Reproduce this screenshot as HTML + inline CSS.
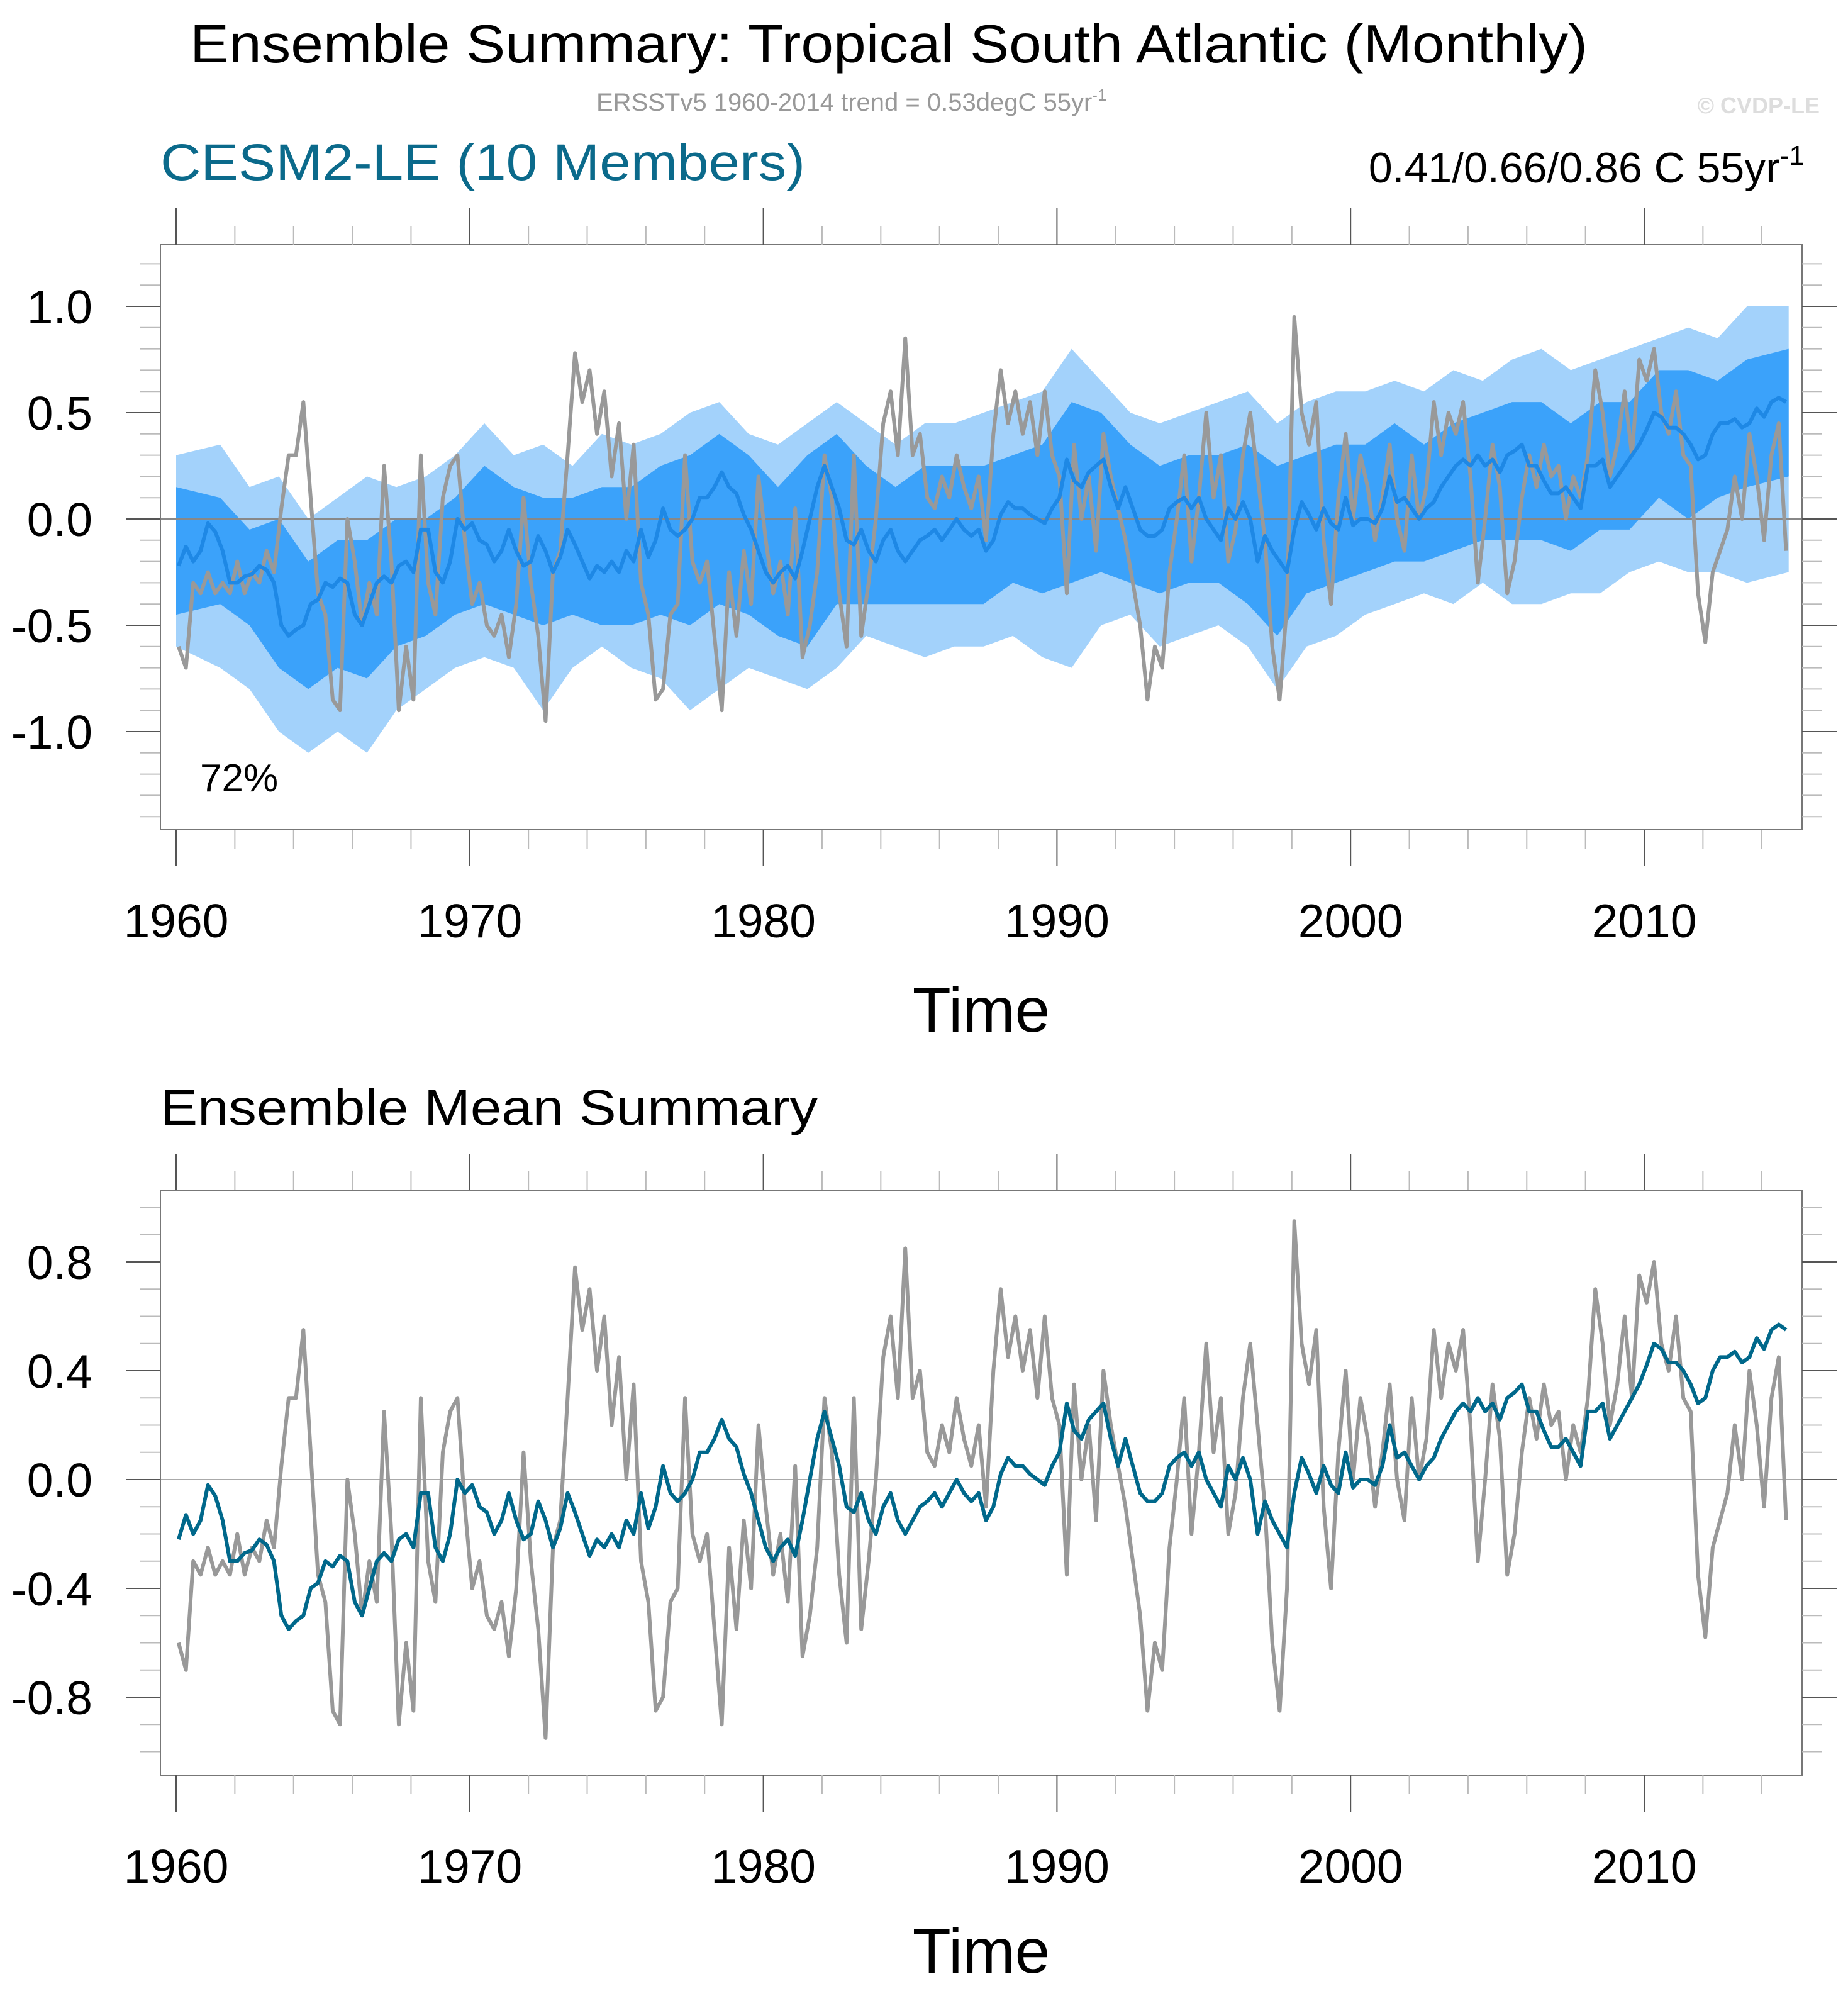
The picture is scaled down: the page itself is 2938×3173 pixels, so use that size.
<!DOCTYPE html>
<html><head><meta charset="utf-8"><style>
html,body{margin:0;padding:0;background:#fff}
svg{display:block;font-family:"Liberation Sans",sans-serif}
</style></head><body>
<svg id="fig" xmlns="http://www.w3.org/2000/svg" width="2938" height="3173" viewBox="0 0 2938 3173">
<text x="302" y="99" font-size="85" textLength="2222" lengthAdjust="spacingAndGlyphs">Ensemble Summary: Tropical South Atlantic (Monthly)</text>
<text x="948" y="176" font-size="40" fill="#999">ERSSTv5 1960-2014 trend = 0.53degC 55yr<tspan dy="-16" font-size="26">-1</tspan></text>
<text x="2893" y="180" font-size="36" font-weight="bold" fill="#ddd" text-anchor="end">© CVDP-LE</text>
<text x="255" y="286" font-size="82" fill="#0b6a8b" textLength="1025" lengthAdjust="spacingAndGlyphs">CESM2-LE (10 Members)</text>
<text x="2869" y="290" font-size="68" text-anchor="end">0.41/0.66/0.86 C 55yr<tspan dy="-28" font-size="44">-1</tspan></text>
<text x="255" y="1788" font-size="80" textLength="1045" lengthAdjust="spacingAndGlyphs">Ensemble Mean Summary</text>
<g id="p1"></g>
<g id="p2"></g>
</svg>
<script>
const years = [];
for (let y = 1960; y <= 2014; y++) years.push(y);
const obsValues = [
-0.6,-0.7,-0.3,-0.35, -0.25,-0.35,-0.3,-0.35, -0.2,-0.35,-0.25,-0.3, -0.15,-0.25,0.05,0.3, 0.3,0.55,0.1,-0.35,
-0.45,-0.85,-0.9,0.0, -0.2,-0.5,-0.3,-0.45, 0.25,-0.2,-0.9,-0.6, -0.85,0.3,-0.3,-0.45, 0.1,0.25,0.3,-0.1,
-0.4,-0.3,-0.5,-0.55, -0.45,-0.65,-0.4,0.1, -0.3,-0.55,-0.95,-0.25, -0.15,0.3,0.78,0.55, 0.7,0.4,0.6,0.2,
0.45,0.0,0.35,-0.3, -0.45,-0.85,-0.8,-0.45, -0.4,0.3,-0.2,-0.3, -0.2,-0.55,-0.9,-0.25, -0.55,-0.15,-0.4,0.2,
-0.1,-0.35,-0.2,-0.45, 0.05,-0.65,-0.5,-0.25, 0.3,0.1,-0.35,-0.6, 0.3,-0.55,-0.3,0.0, 0.45,0.6,0.3,0.85,
0.3,0.4,0.1,0.05, 0.2,0.1,0.3,0.15, 0.05,0.2,-0.1,0.4, 0.7,0.45,0.6,0.4, 0.55,0.3,0.6,0.3,
0.2,-0.35,0.35,0.0, 0.2,-0.15,0.4,0.2, 0.05,-0.1,-0.3,-0.5, -0.85,-0.6,-0.7,-0.25, 0.0,0.3,-0.2,0.1,
0.5,0.1,0.3,-0.2, -0.05,0.3,0.5,0.2, -0.1,-0.6,-0.85,-0.4, 0.95,0.5,0.35,0.55, -0.1,-0.4,0.1,0.4,
0.0,0.3,0.15,-0.1, 0.1,0.35,0.0,-0.15, 0.3,0.0,0.15,0.55, 0.3,0.5,0.4,0.55, 0.2,-0.3,0.0,0.35,
0.15,-0.35,-0.2,0.1, 0.3,0.15,0.35,0.2, 0.25,0.0,0.2,0.1, 0.3,0.7,0.5,0.2, 0.35,0.6,0.3,0.75,
0.65,0.8,0.5,0.4, 0.6,0.3,0.25,-0.35, -0.58,-0.25,-0.15,-0.05, 0.2,0.0,0.4,0.2, -0.1,0.3,0.45,-0.15];
const meanValues = [
-0.22,-0.13,-0.2,-0.15, -0.02,-0.06,-0.15,-0.3, -0.3,-0.27,-0.26,-0.22, -0.24,-0.3,-0.5,-0.55, -0.52,-0.5,-0.4,-0.38,
-0.3,-0.32,-0.28,-0.3, -0.45,-0.5,-0.4,-0.3, -0.27,-0.3,-0.22,-0.2, -0.25,-0.05,-0.05,-0.25, -0.3,-0.2,0.0,-0.05,
-0.02,-0.1,-0.12,-0.2, -0.15,-0.05,-0.15,-0.22, -0.2,-0.08,-0.15,-0.25, -0.18,-0.05,-0.12,-0.2, -0.28,-0.22,-0.25,-0.2,
-0.25,-0.15,-0.2,-0.05, -0.18,-0.1,0.05,-0.05, -0.08,-0.05,0.0,0.1, 0.1,0.15,0.22,0.15, 0.12,0.02,-0.05,-0.15,
-0.25,-0.3,-0.25,-0.22, -0.28,-0.15,0.0,0.15, 0.25,0.15,0.05,-0.1, -0.12,-0.05,-0.15,-0.2, -0.1,-0.05,-0.15,-0.2,
-0.15,-0.1,-0.08,-0.05, -0.1,-0.05,0.0,-0.05, -0.08,-0.05,-0.15,-0.1, 0.02,0.08,0.05,0.05, 0.02,0.0,-0.02,0.05,
0.1,0.28,0.18,0.15, 0.22,0.25,0.28,0.15, 0.05,0.15,0.05,-0.05, -0.08,-0.08,-0.05,0.05, 0.08,0.1,0.05,0.1,
0.0,-0.05,-0.1,0.05, 0.0,0.08,0.0,-0.2, -0.08,-0.15,-0.2,-0.25, -0.05,0.08,0.02,-0.05, 0.05,-0.02,-0.05,0.1,
-0.03,0.0,0.0,-0.02, 0.05,0.2,0.08,0.1, 0.05,0.0,0.05,0.08, 0.15,0.2,0.25,0.28, 0.25,0.3,0.25,0.28,
0.22,0.3,0.32,0.35, 0.25,0.25,0.18,0.12, 0.12,0.15,0.1,0.05, 0.25,0.25,0.28,0.15, 0.2,0.25,0.3,0.35,
0.42,0.5,0.48,0.43, 0.43,0.4,0.35,0.28, 0.3,0.4,0.45,0.45, 0.47,0.43,0.45,0.52, 0.48,0.55,0.57,0.55];
const fullMax = [0.3,0.35,0.15,0.2,0.0,0.1,0.2,0.15,0.2,0.3,0.45,0.3,0.35,0.25,0.4,0.35,0.4,0.5,0.55,0.4,0.35,0.45,0.55,0.45,0.35,0.45,0.45,0.5,0.55,0.6,0.8,0.65,0.5,0.45,0.5,0.55,0.6,0.45,0.55,0.6,0.6,0.65,0.6,0.7,0.65,0.75,0.8,0.7,0.75,0.8,0.85,0.9,0.85,1.0,1.0];
const fullMin = [-0.6,-0.7,-0.8,-1.0,-1.1,-1.0,-1.1,-0.9,-0.8,-0.7,-0.65,-0.7,-0.9,-0.7,-0.6,-0.7,-0.75,-0.9,-0.8,-0.7,-0.75,-0.8,-0.7,-0.55,-0.6,-0.65,-0.6,-0.6,-0.55,-0.65,-0.7,-0.5,-0.45,-0.6,-0.55,-0.5,-0.6,-0.8,-0.6,-0.55,-0.45,-0.4,-0.35,-0.4,-0.3,-0.4,-0.4,-0.35,-0.35,-0.25,-0.2,-0.25,-0.25,-0.3,-0.25];
const innerMax = [0.15,0.1,-0.05,0.0,-0.2,-0.1,-0.1,0.0,0.0,0.1,0.25,0.15,0.1,0.1,0.15,0.15,0.25,0.3,0.4,0.3,0.15,0.3,0.4,0.25,0.15,0.25,0.25,0.25,0.3,0.35,0.55,0.5,0.35,0.25,0.3,0.3,0.35,0.25,0.3,0.35,0.35,0.45,0.35,0.45,0.5,0.55,0.55,0.45,0.55,0.55,0.7,0.7,0.65,0.75,0.8];
const innerMin = [-0.45,-0.4,-0.5,-0.7,-0.8,-0.7,-0.75,-0.6,-0.55,-0.45,-0.4,-0.45,-0.5,-0.45,-0.5,-0.5,-0.45,-0.5,-0.4,-0.45,-0.55,-0.6,-0.4,-0.4,-0.4,-0.4,-0.4,-0.4,-0.3,-0.35,-0.3,-0.25,-0.3,-0.35,-0.3,-0.3,-0.4,-0.55,-0.35,-0.3,-0.25,-0.2,-0.2,-0.15,-0.1,-0.1,-0.1,-0.15,-0.05,-0.05,0.1,0.0,0.1,0.15,0.2];
const xTickLabels = ["1960","1970","1980","1990","2000","2010"];
const yTicks1 = ["-1.0","-0.5","0.0","0.5","1.0"];
const yTicks2 = ["-0.8","-0.4","0.0","0.4","0.8"];

const NS = "http://www.w3.org/2000/svg";
function mk(parent, tag, attrs) { const e = document.createElementNS(NS, tag); for (const k in attrs) e.setAttribute(k, attrs[k]); parent.appendChild(e); return e; }
const X0 = 255, X1 = 2865;
function xs(t) { return 280 + (t - 1960) * 46.68; }
function qt(i) { return 1960 + (i * 3 + 1) / 12; }
function bt(i, n) { return i === 0 ? 1960 : (i === n - 1 ? 2014.92 : years[i] + 0.5); }

function panel(g, top, bot, v0, pxPerUnit, vmin, vmax, major, labels, labelY, timeY) {
  const ys = v => v0 - v * pxPerUnit;
  const defs = mk(g, 'clipPath', {id: g.id + 'clip'});
  mk(defs, 'rect', {x: X0, y: top, width: X1 - X0, height: bot - top});
  const plot = mk(g, 'g', {'clip-path': 'url(#' + g.id + 'clip)'});
  return {ys, plot, finish: () => {
    const fr = mk(g, 'rect', {x: X0, y: top, width: X1 - X0, height: bot - top, fill: 'none', stroke: '#777', 'stroke-width': 2});
    
    
    for (let yr = 1960; yr <= 2014; yr += 2) {
      const maj = (yr % 10 === 0);
      const x = xs(yr);
      mk(g, 'line', {x1: x, x2: x, y1: top, y2: top - (maj ? 58 : 30), stroke: maj ? '#555' : '#bbb', 'stroke-width': 2});
      mk(g, 'line', {x1: x, x2: x, y1: bot, y2: bot + (maj ? 58 : 30), stroke: maj ? '#555' : '#bbb', 'stroke-width': 2});
    }
    for (let k = Math.ceil(vmin * 10); k <= Math.floor(vmax * 10); k++) {
      const v = k / 10, y = ys(v);
      const maj = Math.abs(Math.round(v / major) * major - v) < 1e-6;
      mk(g, 'line', {x1: X0, x2: X0 - (maj ? 55 : 32), y1: y, y2: y, stroke: maj ? '#555' : '#bbb', 'stroke-width': 2});
      mk(g, 'line', {x1: X1, x2: X1 + (maj ? 55 : 32), y1: y, y2: y, stroke: maj ? '#555' : '#bbb', 'stroke-width': 2});
    }
    labels.forEach(l => {
      const t = mk(g, 'text', {x: 147, y: ys(parseFloat(l)) + 27, 'font-size': 75, 'text-anchor': 'end'});
      
      
      t.textContent = l;
    });
    xTickLabels.forEach(l => {
      const t = mk(g, 'text', {x: xs(parseInt(l)), y: labelY, 'font-size': 75, 'text-anchor': 'middle'});
      
      
      t.textContent = l;
    });
    const tt = mk(g, 'text', {x: 1560, y: timeY, 'font-size': 100, 'text-anchor': 'middle'});
    
    
    tt.textContent = 'Time';
  }};
}
function linePath(vals, ys) { return vals.map((v, i) => (i ? 'L' : 'M') + xs(qt(i)).toFixed(1) + ',' + ys(v).toFixed(1)).join(''); }
function bandPath(up, lo, ys) {
  const n = up.length;
  let d = up.map((v, i) => (i ? 'L' : 'M') + xs(bt(i, n)).toFixed(1) + ',' + ys(v).toFixed(1)).join('');
  for (let i = lo.length - 1; i >= 0; i--) d += 'L' + xs(bt(i, n)).toFixed(1) + ',' + ys(lo[i]).toFixed(1);
  return d + 'Z';
}

// Panel 1
const g1 = document.getElementById('p1');
const P1 = panel(g1, 389, 1319, 825, 338, -1.4, 1.2, 0.5, yTicks1, 1490, 1640);
const b1 = mk(P1.plot, 'path', {d: bandPath(fullMax, fullMin, P1.ys), fill: '#a3d2fb'});


const b2 = mk(P1.plot, 'path', {d: bandPath(innerMax, innerMin, P1.ys), fill: '#3ba2fa'});


mk(P1.plot, 'line', {x1: X0, x2: X1, y1: P1.ys(0), y2: P1.ys(0), stroke: '#888', 'stroke-width': 2});
const o1 = mk(P1.plot, 'path', {d: linePath(obsValues, P1.ys), fill: 'none', stroke: '#999', 'stroke-width': 6, 'stroke-linejoin': 'round'});


const m1 = mk(P1.plot, 'path', {d: linePath(meanValues, P1.ys), fill: 'none', stroke: '#1e88e5', 'stroke-width': 6, 'stroke-linejoin': 'round'});


const pct = mk(g1, 'text', {x: 318, y: 1258, 'font-size': 62});


pct.textContent = '72%';
P1.finish();

// Panel 2
const g2 = document.getElementById('p2');
const P2 = panel(g2, 1892, 2822, 2352, 432.5, -1.0, 1.0, 0.4, yTicks2, 2993, 3136);
mk(P2.plot, 'line', {x1: X0, x2: X1, y1: P2.ys(0), y2: P2.ys(0), stroke: '#aaa', 'stroke-width': 2});
const o2 = mk(P2.plot, 'path', {d: linePath(obsValues, P2.ys), fill: 'none', stroke: '#999', 'stroke-width': 6, 'stroke-linejoin': 'round'});


const m2 = mk(P2.plot, 'path', {d: linePath(meanValues, P2.ys), fill: 'none', stroke: '#00688b', 'stroke-width': 6, 'stroke-linejoin': 'round'});


P2.finish();
</script>
</body></html>
